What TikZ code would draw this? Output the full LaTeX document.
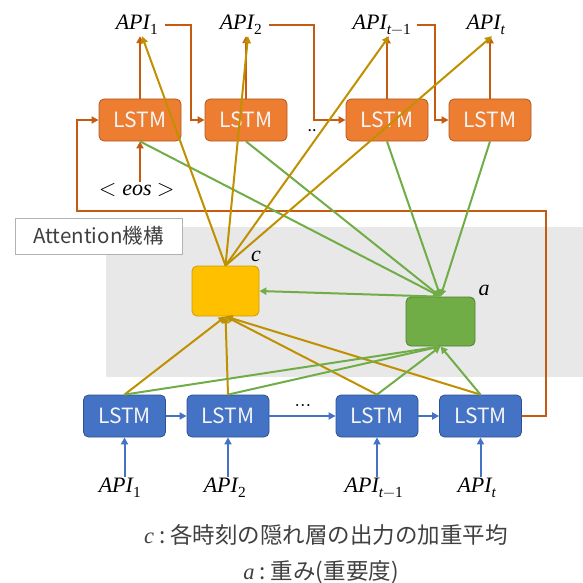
\documentclass[tikz,border=0pt]{standalone}
\usepackage{fontspec}
\usepackage{unicode-math}
\setmainfont{Noto Sans CJK JP}
\setmathfont{Latin Modern Math}
\setmathfont{Liberation Serif Italic}[range={it/{latin,Latin}}]
\setmathfont{Liberation Serif}[range={up/num}]
\usetikzlibrary{arrows.meta,calc}
\definecolor{oFill}{HTML}{ED7D31}
\definecolor{oDraw}{HTML}{AE5A21}
\definecolor{oLine}{HTML}{C55A11}
\definecolor{bFill}{HTML}{4472C4}
\definecolor{bDraw}{HTML}{2F528F}
\definecolor{gold}{HTML}{BF9000}
\definecolor{cFill}{HTML}{FFC000}
\definecolor{cDraw}{HTML}{C9A000}
\definecolor{grn}{HTML}{70AD47}
\definecolor{aDraw}{HTML}{507E32}
\definecolor{txt}{HTML}{404040}
\tikzset{
  lstmbox/.style={rounded corners=5pt,minimum width=82pt,minimum height=42pt,
    text=white!92!gray,font=\fontsize{21}{23}\selectfont,inner sep=0pt},
  obox/.style={lstmbox,fill=oFill,draw=oDraw,line width=0.8pt},
  bbox/.style={lstmbox,fill=bFill,draw=bDraw,line width=0.8pt},
  lbl/.style={font=\fontsize{22}{24}\selectfont,inner sep=1pt},
  tip/.style={-{Triangle[length=7pt,width=7pt]}},
  oline/.style={draw=oLine,line width=2pt,tip},
  bline/.style={draw=bFill,line width=2pt,tip},
  goldline/.style={draw=gold,line width=2pt,tip},
  gline/.style={draw=grn,line width=2pt,tip},
}
\begin{document}
\begin{tikzpicture}[x=1pt,y=-1pt]
\useasboundingbox (0,0) rectangle (583,583);
% background
\fill[gray!18] (106,227) rectangle (583,377);
\node[draw=gray!60,fill=white,line width=0.8pt,minimum width=167pt,minimum height=36pt,
  font=\fontsize{20.5}{22}\selectfont,text=txt,inner sep=0pt] (att) at (98.5,236) {Attention機構};
% top LSTMs
\node[obox] (t1) at (140,120) {LSTM};
\node[obox] (t2) at (246,120) {LSTM};
\node[obox] (t3) at (387,120) {LSTM};
\node[obox] (t4) at (490,120) {LSTM};
% top labels
\node[lbl] (o1) at (137,25) {$API_1$};
\node[lbl] (o2) at (241,25) {$API_2$};
\node[lbl] (o3) at (382,25) {$API_{t-1}$};
\node[lbl] (o4) at (486,25) {$API_t$};
\node[lbl] (eos) at (137,190) {$<eos>$};
\node[font=\fontsize{16}{18}\selectfont,inner sep=0pt] (tdots) at (312,131) {..};
% bottom LSTMs
\node[bbox] (b1) at (124.5,416) {LSTM};
\node[bbox] (b2) at (228,416) {LSTM};
\node[bbox] (b3) at (377,416) {LSTM};
\node[bbox] (b4) at (480.5,416) {LSTM};
\node[lbl] (i1) at (120,488) {$API_1$};
\node[lbl] (i2) at (225,488) {$API_2$};
\node[lbl] (i3) at (374,488) {$API_{t-1}$};
\node[lbl] (i4) at (477,488) {$API_t$};
\node[font=\fontsize{20}{22}\selectfont,inner sep=0pt] (bdots) at (303,407) {$\cdots$};
% attention nodes
\node[rounded corners=5pt,fill=cFill,draw=cDraw,line width=0.8pt,minimum width=67pt,minimum height=50pt] (c) at (225.5,291) {};
\node[rounded corners=5pt,fill=grn,draw=aDraw,line width=0.8pt,minimum width=69pt,minimum height=49pt] (a) at (440.5,321.5) {};
\node[lbl] (cl) at (256,256) {$c$};
\node[lbl] (al) at (484,290) {$a$};
% captions
\node[font=\fontsize{22.5}{26}\selectfont,text=txt,inner sep=0pt] (cap1) at (326,535) {$c$\hspace{5pt}:\hspace{5pt}各時刻の隠れ層の出力の加重平均};
\node[font=\fontsize{22.5}{26}\selectfont,text=txt,inner sep=0pt] (cap2) at (321,572) {$a$\hspace{5pt}:\hspace{5pt}重み(重要度)};
% coordinates
\coordinate (fbR) at (546,211);
\coordinate (fbL) at (77,211);
% top outputs
\foreach \n in {1,2,3,4}{\draw[oline] (t\n.north) -- (t\n.north |- o\n.south);}
\draw[oline] (t1.south |- eos.north) -- (t1.south);
\draw[oline] ([xshift=6pt]o1.east) -| ($(t1.east)!0.4!(t2.west)$) |- (t2.west);
\draw[oline] ([xshift=6pt]o2.east) -| ($(t2.east)!0.45!(t3.west)$) |- (t3.west);
\draw[oline] ([xshift=4pt]o3.east) -| ($(t3.east)!0.35!(t4.west)$) |- (t4.west);
% feedback
\draw[oline] (b4.east) -| (fbR) -- (fbL) |- (t1.west);
% bottom
\foreach \n in {1,2,3,4}{\draw[bline] (b\n.south |- i\n.north) -- (b\n.south);}
\draw[bline] (b1) -- (b2);
\draw[bline] (b2) -- (b3);
\draw[bline] (b3) -- (b4);
% attention lines
\foreach \n in {1,2,3,4}{\draw[gline] (t\n.south) -- (a.north);}
\foreach \n in {1,2,3,4}{\draw[goldline] (c.north) -- ([xshift=2pt]t\n.north |- o\n.south);}
\foreach \n in {1,2,3,4}{\draw[goldline] (b\n.north) -- (c.south);}
\foreach \n in {1,2,3,4}{\draw[gline] (b\n.north) -- (a.south);}
\draw[gline] ([xshift=-3pt]a.north) -- (c.east);
\end{tikzpicture}
\end{document}
